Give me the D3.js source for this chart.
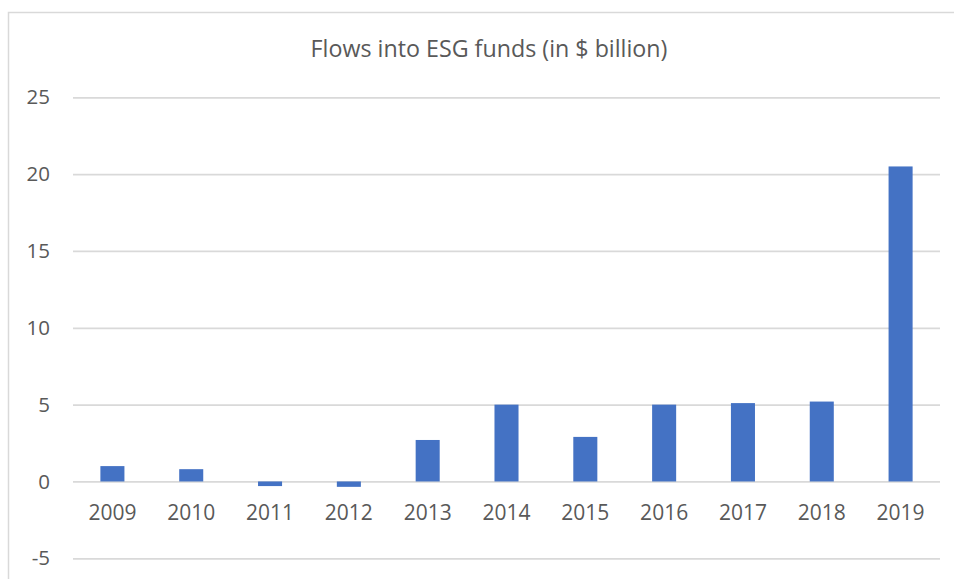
<!DOCTYPE html>
<html><head><meta charset="utf-8">
<script src="https://cdn.jsdelivr.net/npm/d3@7"></script>
<style>body{margin:0;background:#fff;}svg{display:block;}</style>
</head><body>
<svg id="chart" width="954" height="579"></svg>
<script>
const categories = ["2009","2010","2011","2012","2013","2014","2015","2016","2017","2018","2019"];
const values = [1.0, 0.8, -0.3, -0.35, 2.7, 5.0, 2.9, 5.0, 5.1, 5.2, 20.5];
const yTicks = [-5, 0, 5, 10, 15, 20, 25];
const title = "Flows into ESG funds (in $ billion)";

(function () {
const svg = d3.select("#chart");
const mLeft = 73, mRight = 940, mTop = 97.3, mBottom = 558.3;
const font = "'Open Sans', 'Liberation Sans', sans-serif";

svg.append("rect").attr("x", 8.5).attr("y", 12.5).attr("width", 1000).attr("height", 700)
  .attr("fill", "#fff").attr("stroke", "#d9d9d9").attr("stroke-width", 1.5);

const x = d3.scaleBand().domain(categories).range([mLeft, mRight]).padding(0);
const y = d3.scaleLinear().domain([-5, 25]).range([mBottom, mTop]);
const barW = x.bandwidth() * 0.305;

// gridlines
const yAxis = d3.axisLeft(y).tickValues(yTicks).tickSize(-(mRight - mLeft)).tickFormat(d => String(d));
const ga = svg.append("g").attr("transform", `translate(${mLeft},0)`).call(yAxis);
ga.select(".domain").remove();
ga.selectAll(".tick line").attr("stroke", "#d9d9d9").attr("stroke-width", 1.8);
ga.selectAll(".tick text").attr("fill", "#595959").attr("font-family", font).attr("font-size", 20.5).attr("x", -23);

// bars
svg.append("g").selectAll("rect").data(values).join("rect")
  .attr("x", (d, i) => x(categories[i]) + x.bandwidth() / 2 - barW / 2)
  .attr("width", barW)
  .attr("y", d => y(Math.max(0, d)))
  .attr("height", d => Math.abs(y(d) - y(0)))
  .attr("fill", "#4472c4");

// x labels
const xAxis = d3.axisBottom(x).tickSize(0).tickPadding(0);
const gx = svg.append("g").attr("transform", `translate(0,${y(0)})`).call(xAxis);
gx.select(".domain").remove();
gx.selectAll(".tick text").attr("fill", "#595959").attr("font-family", font).attr("font-size", 21).attr("dy", null).attr("y", 39);

// title
const t = svg.append("text").attr("x", 489).attr("y", 57).attr("text-anchor", "middle")
  .attr("fill", "#595959").attr("font-family", "'Liberation Sans Narrow', 'Open Sans', sans-serif").attr("font-size", 22).text(title);
const tw = t.node().getComputedTextLength();
t.attr("font-size", 22 * 357 / tw);
})();
</script>
</body></html>
